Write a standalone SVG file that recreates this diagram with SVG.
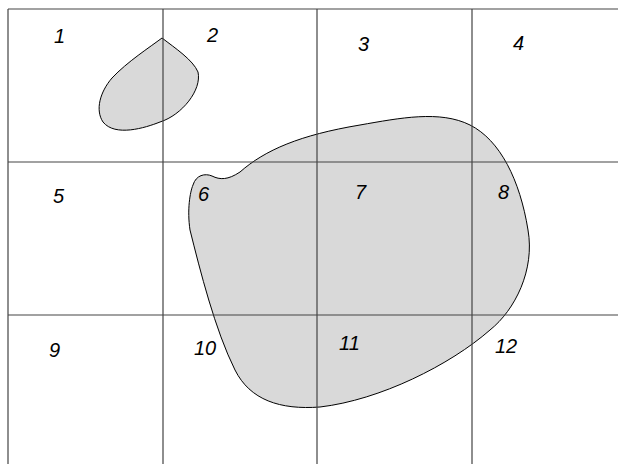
<svg xmlns="http://www.w3.org/2000/svg" width="618" height="464" viewBox="0 0 618 464">
<style>
.grid{stroke:#444;stroke-width:1.2;fill:none}
.blob{fill:#d9d9d9;stroke:#000;stroke-width:1}
.lbl{font-family:"Liberation Sans",Arial,sans-serif;font-style:italic;font-size:20px;fill:#000}
</style>
<rect width="618" height="464" fill="#fff"/>
<g id="shapes">
<path id="blob-small" class="blob" d="M162,38 C175,48 193,60 198,72 C202,90 182,115 160,122 C145,128 115,137 103,122 C95,110 100,92 112,78 C127,62 150,47 162,38 Z"/>
<path id="blob-big" class="blob" d="M193,185 C196,175 205,173 212,176 C220,180 228,180 240,172 C265,150 300,135 360,125 C400,118 440,110 470,125 C500,140 520,180 528,230 C535,270 515,310 490,330 C450,365 380,400 320,407 C280,410 250,400 235,370 C215,330 200,270 190,230 C187,210 190,192 193,185 Z"/>
</g>
<g id="grid">
<path class="grid" d="M8,9 H618 M8,162 H618 M8,315 H618 M8,9 V464 M163,9 V464 M317,9 V464 M472,9 V464"/>
</g>
<g id="labels">
<text class="lbl" x="54" y="43">1</text>
<text class="lbl" x="207" y="42">2</text>
<text class="lbl" x="358" y="51">3</text>
<text class="lbl" x="513" y="50">4</text>
<text class="lbl" x="53" y="203">5</text>
<text class="lbl" x="198" y="201">6</text>
<text class="lbl" x="355" y="199">7</text>
<text class="lbl" x="498" y="199">8</text>
<text class="lbl" x="49" y="357">9</text>
<text class="lbl" x="194" y="355">10</text>
<text class="lbl" x="339" y="350">11</text>
<text class="lbl" x="495" y="353">12</text>
</g>
</svg>
